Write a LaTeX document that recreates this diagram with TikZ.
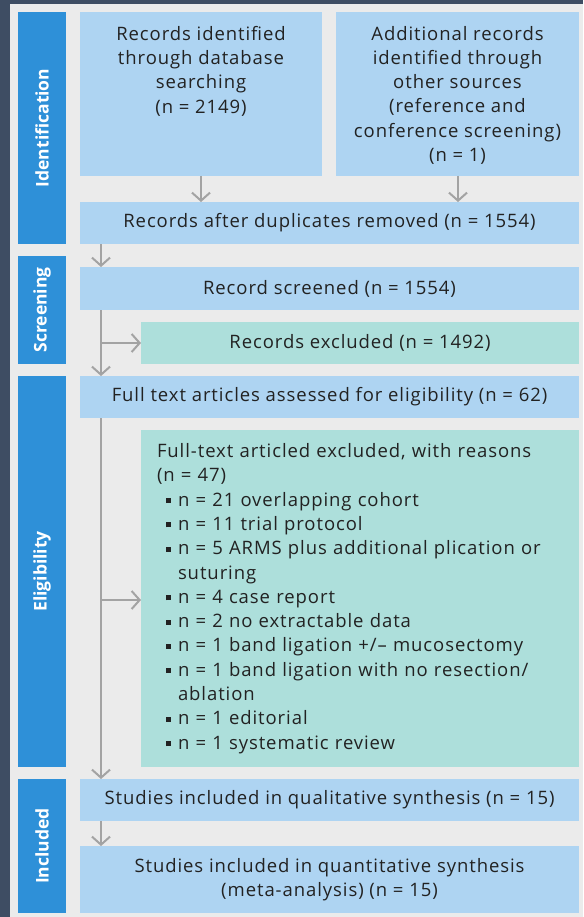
\documentclass[tikz,border=0pt]{standalone}
\usepackage{fontspec}
\setmainfont{Open Sans}[LetterSpace=5]
\newfontfamily\phasefont{Open Sans}
\usetikzlibrary{arrows.meta,calc}
\definecolor{darkedge}{HTML}{3E4D63}
\definecolor{bgc}{HTML}{EBEBEB}
\definecolor{phasec}{HTML}{2E90D8}
\definecolor{lblue}{HTML}{AED4F2}
\definecolor{tealc}{HTML}{ADDFDB}
\definecolor{txtc}{HTML}{222222}
\definecolor{arrc}{HTML}{A3A3A3}
\newcommand\mybul{\makebox[21pt][l]{\hspace{9pt}\rule[3pt]{5pt}{5pt}}}
\begin{document}
\begin{tikzpicture}[x=1pt,y=-1pt,
  base/.style={inner sep=0pt, outer sep=0pt, text=txtc, font=\fontsize{18.5}{24.3}\selectfont},
  bluebox/.style={base, fill=lblue, anchor=north west, align=center},
  tealbox/.style={base, fill=tealc, anchor=north west, align=center},
  phasebox/.style={inner sep=0pt, outer sep=0pt, fill=phasec, text=white, rotate=90, minimum height=48pt, font=\phasefont\fontsize{17.5}{20}\selectfont\bfseries},
  conn/.style={draw=arrc, line width=2pt, -{Straight Barb[length=8pt,width=18pt,line width=2pt]}}
]
\useasboundingbox (0,0) rectangle (583,917);
\fill[darkedge] (0,0) rectangle (583,917);
\fill[bgc] (10,4) rectangle (583,917);

% phase labels
\node[phasebox, minimum width=232pt] (pid) at (42,128) {Identification};
\node[phasebox, minimum width=108pt] (pscr) at (42,310) {Screening};
\node[phasebox, minimum width=391pt] (pel) at (42,571.5) {Eligibility};
\node[phasebox, minimum width=134pt] (pin) at (42,846) {Included};

% boxes
\node[bluebox, minimum width=242pt, minimum height=164pt] (b1) at (80,12)
  {\parbox[c][164pt][t]{242pt}{\centering\vspace*{14pt}Records identified\\through database\\searching\\(n = 2149)}};
\node[bluebox, minimum width=243pt, minimum height=164pt] (b2) at (336,12)
  {\parbox[c][164pt][t]{243pt}{\centering\vspace*{14pt}Additional records\\identified through\\other sources\\(reference and\\conference screening)\\(n = 1)}};
\node[bluebox, minimum width=499pt, minimum height=42pt] (dup) at (80,202)
  {Records after duplicates removed (n = 1554)};
\node[bluebox, minimum width=499pt, minimum height=43pt] (scr) at (80,267)
  {Record screened (n = 1554)};
\node[tealbox, minimum width=438pt, minimum height=42pt] (exc) at (141,322)
  {Records excluded (n = 1492)};
\node[bluebox, minimum width=499pt, minimum height=42pt] (ft) at (80,376)
  {Full text articles assessed for eligibility (n = 62)};
\node[tealbox, minimum height=337pt, align=left, text width=406pt, inner xsep=16pt] (ftx) at (141,430)
  {Full-text articled excluded, with reasons\\
   (n = 47)\\
   \mybul n = 21 overlapping cohort\\
   \mybul n = 11 trial protocol\\
   \mybul n = 5 ARMS plus additional plication or\\
   \hspace*{21pt}suturing\\
   \mybul n = 4 case report\\
   \mybul n = 2 no extractable data\\
   \mybul n = 1 band ligation +/-- mucosectomy\\
   \mybul n = 1 band ligation with no resection/\\
   \hspace*{21pt}ablation\\
   \mybul n = 1 editorial\\
   \mybul n = 1 systematic review};
\node[bluebox, minimum width=499pt, minimum height=42pt] (qual) at (80,779)
  {Studies included in qualitative synthesis (n = 15)};
\node[bluebox, minimum width=499pt, minimum height=67pt] (quant) at (80,846)
  {Studies included in quantitative synthesis\\(meta-analysis) (n = 15)};

% connectors
\coordinate (xl) at (101,0);
\draw[conn] (b1.south) -- (b1.south |- dup.north);
\draw[conn] (b2.south -| 458,0) -- (dup.north -| 458,0);
\draw[conn] (dup.south -| xl) -- (scr.north -| xl);
\draw[conn] (scr.south -| xl) -- (ft.north -| xl);
\draw[conn] (xl |- exc.west) -- (exc.west);
\draw[conn] (ft.south -| xl) -- (qual.north -| xl);
\draw[conn] (xl |- 0,600) -- (ftx.west |- 0,600);
\draw[conn] (qual.south -| xl) -- (quant.north -| xl);
\end{tikzpicture}
\end{document}
